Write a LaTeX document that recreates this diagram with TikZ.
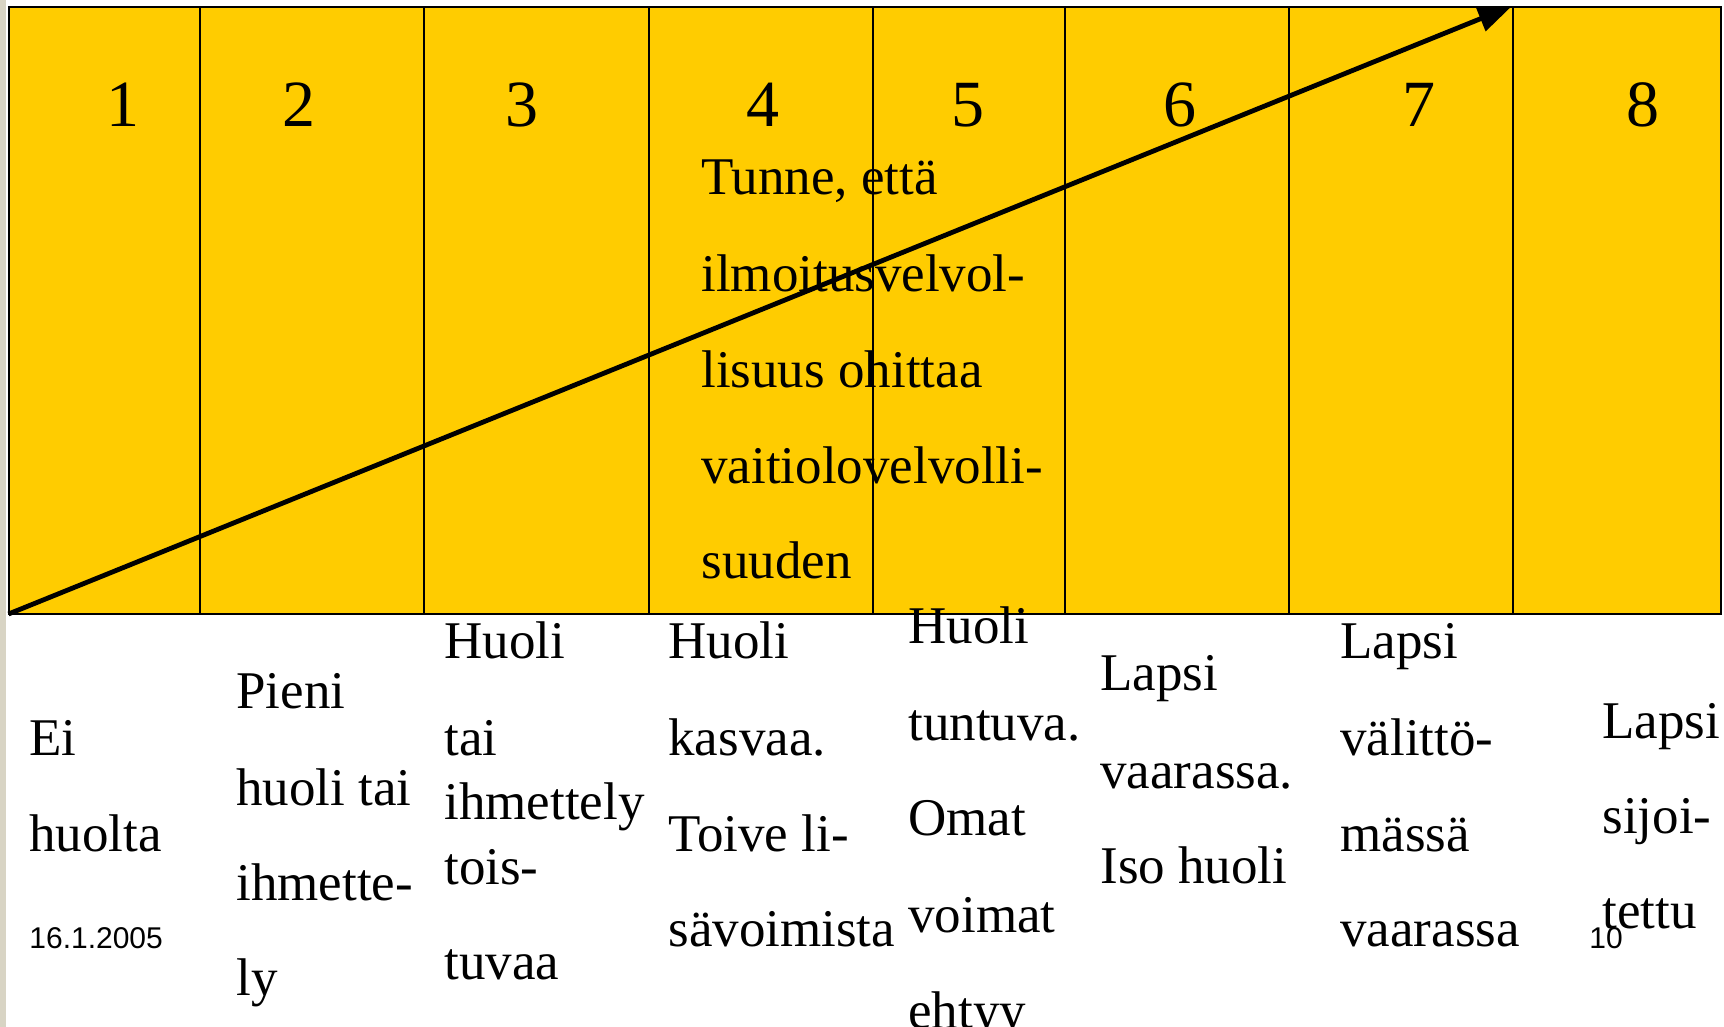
\documentclass[tikz,border=0pt]{standalone}
\usepackage{fontspec}
\setmainfont{Liberation Serif}
\setsansfont{Liberation Sans}
\usetikzlibrary{arrows.meta}
\definecolor{gold}{HTML}{FFCC00}
\definecolor{strip}{HTML}{D8D4C4}
\tikzset{
  txt/.style={anchor=base west,inner sep=0pt,font=\fontsize{26.5}{30}\selectfont},
  num/.style={anchor=base,inner sep=0pt,font=\fontsize{33}{36}\selectfont},
  small/.style={anchor=base west,inner sep=0pt,font=\sffamily\fontsize{15}{18}\selectfont},
  grid/.style={line width=0.75pt,draw=black},
}
\begin{document}
\begin{tikzpicture}[x=0.5pt,y=-0.5pt]
\clip (0,0) rectangle (1724,1027);
\fill[white] (0,0) rectangle (1724,1027);
\fill[strip] (0,0) rectangle (6,1027);
% table
\fill[gold] (8.5,7) rectangle (1721,614);
\foreach \xx in {200,424,649,873,1065,1289,1513}
  \draw[grid] (\xx,7) -- (\xx,614);
\draw[line width=1pt] (8.5,7) rectangle (1721,614);
% numbers
\node[num] (n1) at (123,127) {1};
\node[num] (n2) at (299,127) {2};
\node[num] (n3) at (522,127) {3};
\node[num] (n4) at (763,127) {4};
\node[num] (n5) at (968,127) {5};
\node[num] (n6) at (1180,127) {6};
\node[num] (n7) at (1419,127) {7};
\node[num] (n8) at (1643,127) {8};
% top text col 4
\node[txt] (t1) at (701,195) {Tunne, että};
\node[txt] (t2) at (701,292) {ilmoitusvelvol-};
\node[txt] (t3) at (701,387) {lisuus ohittaa};
\node[txt] (t4) at (701,483) {vaitiolovelvolli-};
\node[txt] (t5) at (701,578) {suuden};
% arrow
\coordinate (start) at (8.5,614);
\coordinate (tip) at (1512,6);
\draw[line width=2.4pt,-{Triangle[length=17pt,width=13pt]}] (start) -- (tip);
% column 1
\node[txt] (a1) at (29,755) {Ei};
\node[txt] (a2) at (29,851) {huolta};
\node[small] (date) at (29,948) {16.1.2005};
% column 2
\node[txt] (b1) at (236,708) {Pieni};
\node[txt] (b2) at (236,805) {huoli tai};
\node[txt] (b3) at (236,900) {ihmette-};
\node[txt] (b4) at (236,995) {ly};
% column 3
\node[txt] (c1) at (444,658) {Huoli};
\node[txt] (c2) at (444,755) {tai};
\node[txt] (c3) at (444,819) {ihmettely};
\node[txt] (c4) at (444,884) {tois-};
\node[txt] (c5) at (444,979) {tuvaa};
% column 4
\node[txt] (d1) at (668,658) {Huoli};
\node[txt] (d2) at (668,755) {kasvaa.};
\node[txt] (d3) at (668,851) {Toive li-};
\node[txt] (d4) at (668,946) {sävoimista};
% column 5
\node[txt] (e1) at (908,643) {Huoli};
\node[txt] (e2) at (908,740) {tuntuva.};
\node[txt] (e3) at (908,835) {Omat};
\node[txt] (e4) at (908,932) {voimat};
\node[txt] (e5) at (908,1028) {ehtyy};
% column 6
\node[txt] (f1) at (1100,690) {Lapsi};
\node[txt] (f2) at (1100,788) {vaarassa.};
\node[txt] (f3) at (1100,883) {Iso huoli};
% column 7
\node[txt] (g1) at (1340,658) {Lapsi};
\node[txt] (g2) at (1340,755) {välittö-};
\node[txt] (g3) at (1340,851) {mässä};
\node[txt] (g4) at (1340,946) {vaarassa};
% column 8
\node[txt] (h1) at (1602,738) {Lapsi};
\node[txt] (h2) at (1602,833) {sijoi-};
\node[txt] (h3) at (1602,928) {tettu};
\node[small] (page) at (1589,948) {10};
\end{tikzpicture}
\end{document}
